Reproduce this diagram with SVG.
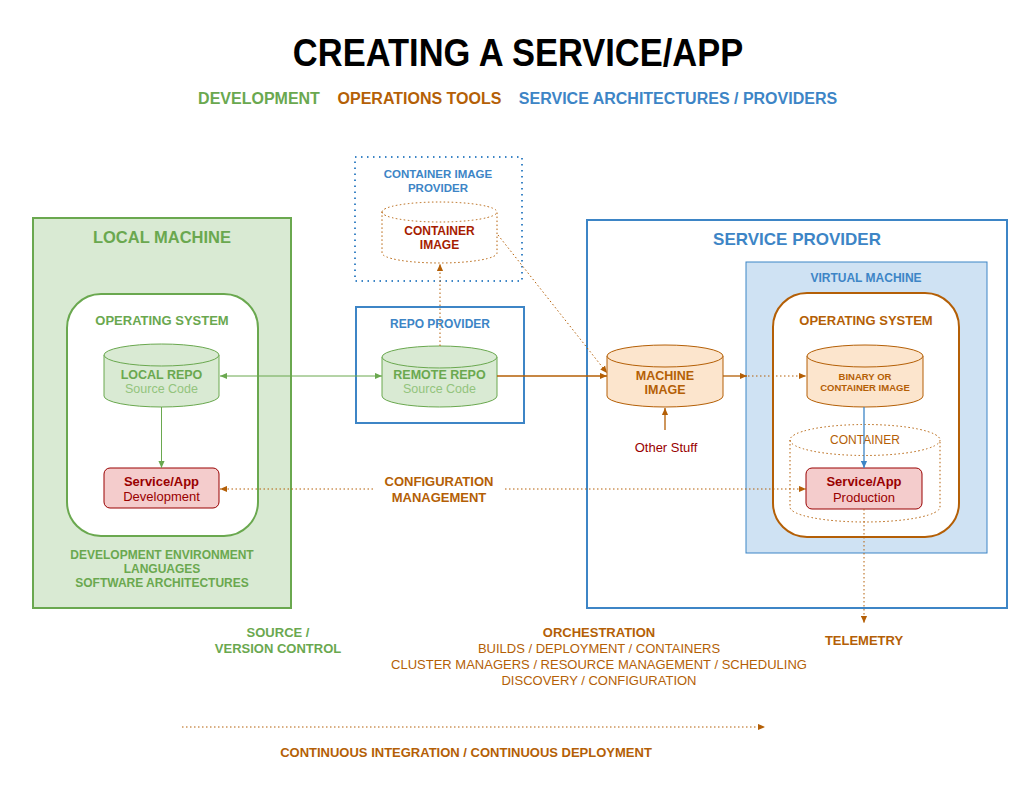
<svg xmlns="http://www.w3.org/2000/svg" width="1036" height="786" viewBox="0 0 1036 786">
<style>
text{font-family:"Liberation Sans",Arial,sans-serif;text-anchor:middle}
.b{font-weight:bold}
.g{fill:#6aa84f}.lg{fill:#93c47d}.o{fill:#b45f06}.bl{fill:#3d85c6}.r{fill:#990000}.rb{fill:#a61c00}
.cylG{fill:#d9ead3;stroke:#6aa84f;stroke-width:1}
.cylO{fill:#fce5cd;stroke:#b45f06;stroke-width:1}
.dotO{stroke:#b45f06;stroke-width:1;stroke-dasharray:1.5,2.5;fill:none}
.app{fill:#f4cccc;stroke:#990000;stroke-width:1}
</style>
<defs>
<marker id="aG" viewBox="0 0 8 8" refX="8" refY="4" markerWidth="7" markerHeight="7" markerUnits="userSpaceOnUse" orient="auto-start-reverse"><path d="M0,0.5 L8,4 L0,7.5 z" fill="#6aa84f"/></marker>
<marker id="aO" viewBox="0 0 8 8" refX="8" refY="4" markerWidth="7" markerHeight="7" markerUnits="userSpaceOnUse" orient="auto-start-reverse"><path d="M0,0.5 L8,4 L0,7.5 z" fill="#b45f06"/></marker>
<marker id="aB" viewBox="0 0 8 8" refX="8" refY="4" markerWidth="7" markerHeight="7" markerUnits="userSpaceOnUse" orient="auto-start-reverse"><path d="M0,0.5 L8,4 L0,7.5 z" fill="#3d85c6"/></marker>
</defs>
<rect width="1036" height="786" fill="#ffffff"/>

<g id="title">
<text transform="translate(518,66) scale(1,1.12)" x="0" y="0" class="b" font-size="34.5" fill="#000">CREATING A SERVICE/APP</text>
<text x="259" y="104" class="b g" font-size="16">DEVELOPMENT</text>
<text x="419.5" y="104" class="b o" font-size="16">OPERATIONS TOOLS</text>
<text x="678" y="104" class="b bl" font-size="16">SERVICE ARCHITECTURES / PROVIDERS</text>
</g>

<g id="local-machine">
<rect x="33" y="218" width="258" height="390" fill="#d9ead3" stroke="#6aa84f" stroke-width="2"/>
<text x="162" y="243" class="b g" font-size="16.5">LOCAL MACHINE</text>
<text x="162" y="559" class="b g" font-size="12">DEVELOPMENT ENVIRONMENT</text>
<text x="162" y="573" class="b g" font-size="12">LANGUAGES</text>
<text x="162" y="587" class="b g" font-size="12">SOFTWARE ARCHITECTURES</text>
</g>
<g id="local-os">
<rect x="67" y="294" width="191" height="242" rx="34" fill="#ffffff" stroke="#6aa84f" stroke-width="2"/>
<text x="162" y="325" class="b g" font-size="13">OPERATING SYSTEM</text>
</g>
<g id="local-repo">
<path class="cylG" d="M104,355 A57.5,11 0 0 1 219,355 V396 A57.5,11 0 0 1 104,396 Z"/>
<path class="cylG" fill="none" d="M104,355 A57.5,11 0 0 0 219,355"/>
<text x="161.5" y="379" class="b g" font-size="12.5">LOCAL REPO</text>
<text x="161.5" y="393" class="lg" font-size="12.5">Source Code</text>
</g>
<g id="app-dev">
<rect x="104" y="468" width="115" height="40" rx="6" class="app"/>
<text x="161.5" y="486" class="b r" font-size="13">Service/App</text>
<text x="161.5" y="501" class="r" font-size="13">Development</text>
</g>

<g id="container-image-provider">
<rect x="355" y="157" width="167" height="124" fill="none" stroke="#3d85c6" stroke-width="2" stroke-dasharray="1.5,4.5"/>
<text x="438" y="178" class="b bl" font-size="11.5">CONTAINER IMAGE</text>
<text x="438" y="192" class="b bl" font-size="11.5">PROVIDER</text>
</g>
<g id="container-image">
<path d="M382,212 A57.5,10 0 0 1 497,212 V253 A57.5,10 0 0 1 382,253 Z" fill="#fce5cd" class="dotO"/>
<path class="dotO" d="M382,212 A57.5,10 0 0 0 497,212"/>
<text x="439.5" y="235" class="b rb" font-size="12">CONTAINER</text>
<text x="439.5" y="249" class="b rb" font-size="12">IMAGE</text>
</g>

<g id="repo-provider">
<rect x="356" y="307" width="168" height="116" fill="#ffffff" stroke="#3d85c6" stroke-width="2"/>
<text x="440" y="328" class="b bl" font-size="12">REPO PROVIDER</text>
</g>
<g id="remote-repo">
<path class="cylG" d="M382,357 A57.5,11 0 0 1 497,357 V396 A57.5,11 0 0 1 382,396 Z"/>
<path class="cylG" fill="none" d="M382,357 A57.5,11 0 0 0 497,357"/>
<text x="439.5" y="379" class="b g" font-size="12.5">REMOTE REPO</text>
<text x="439.5" y="393" class="lg" font-size="12.5">Source Code</text>
</g>

<g id="service-provider">
<rect x="587" y="220" width="420" height="388" fill="#ffffff" stroke="#3d85c6" stroke-width="2"/>
<text x="797" y="245" class="b bl" font-size="17">SERVICE PROVIDER</text>
</g>
<g id="virtual-machine">
<rect x="746" y="262" width="241" height="291" fill="#cfe2f3" stroke="#3d85c6" stroke-width="1"/>
<text x="866" y="282" class="b bl" font-size="12">VIRTUAL MACHINE</text>
</g>
<g id="prod-os">
<rect x="773" y="293" width="186" height="244" rx="34" fill="#ffffff" stroke="#b45f06" stroke-width="2"/>
<text x="866" y="325" class="b o" font-size="13">OPERATING SYSTEM</text>
</g>
<g id="machine-image">
<path class="cylO" d="M607,356 A58,11 0 0 1 723,356 V396 A58,11 0 0 1 607,396 Z"/>
<path class="cylO" fill="none" d="M607,356 A58,11 0 0 0 723,356"/>
<text x="665" y="380" class="b o" font-size="12.5">MACHINE</text>
<text x="665" y="394" class="b o" font-size="12.5">IMAGE</text>
</g>
<g id="other-stuff">
<text x="666" y="452" class="r" font-size="13">Other Stuff</text>
</g>
<g id="binary-image">
<path class="cylO" d="M807,356 A58,11 0 0 1 923,356 V396 A58,11 0 0 1 807,396 Z"/>
<path class="cylO" fill="none" d="M807,356 A58,11 0 0 0 923,356"/>
<text x="865" y="380" class="b o" font-size="9.5">BINARY OR</text>
<text x="865" y="391" class="b o" font-size="9.5">CONTAINER IMAGE</text>
</g>
<g id="container">
<path class="dotO" d="M790,440 V507 A75,15 0 0 0 940,507 V440"/>
<ellipse class="dotO" cx="865" cy="440" rx="75" ry="15.5"/>
<text x="865" y="444" class="o" font-size="12">CONTAINER</text>
</g>
<g id="app-prod">
<rect x="806" y="468" width="116" height="41" rx="6" class="app"/>
<text x="864" y="486" class="b r" font-size="13">Service/App</text>
<text x="864" y="502" class="r" font-size="13">Production</text>
</g>

<g id="labels">
<text x="439" y="486" class="b o" font-size="13">CONFIGURATION</text>
<text x="439" y="502" class="b o" font-size="13">MANAGEMENT</text>
<text x="864" y="645" class="b o" font-size="13">TELEMETRY</text>
<text x="278" y="637" class="b g" font-size="13">SOURCE /</text>
<text x="278" y="653" class="b g" font-size="13">VERSION CONTROL</text>
<text x="599" y="637" class="b o" font-size="13">ORCHESTRATION</text>
<text x="599" y="653" class="o" font-size="13">BUILDS / DEPLOYMENT / CONTAINERS</text>
<text x="599" y="669" class="o" font-size="13">CLUSTER MANAGERS / RESOURCE MANAGEMENT / SCHEDULING</text>
<text x="599" y="685" class="o" font-size="13">DISCOVERY / CONFIGURATION</text>
<text x="466" y="757" class="b o" font-size="13">CONTINUOUS INTEGRATION / CONTINUOUS DEPLOYMENT</text>
</g>

<g id="connectors">
<line x1="161.5" y1="407" x2="161.5" y2="468" stroke="#6aa84f" stroke-width="1" marker-end="url(#aG)"/>
<line x1="220" y1="376" x2="382" y2="376" stroke="#6aa84f" stroke-width="1" marker-start="url(#aG)" marker-end="url(#aG)"/>
<line x1="440" y1="346" x2="440" y2="264" class="dotO" marker-end="url(#aO)"/>
<line x1="498" y1="235" x2="607" y2="373" class="dotO" marker-end="url(#aO)"/>
<line x1="497" y1="376" x2="607" y2="376" stroke="#b45f06" stroke-width="1.3" marker-end="url(#aO)"/>
<line x1="723" y1="376" x2="747" y2="376" stroke="#b45f06" stroke-width="1.3" marker-end="url(#aO)"/>
<line x1="748" y1="376" x2="806" y2="376" class="dotO" marker-end="url(#aO)"/>
<line x1="665" y1="430" x2="665" y2="408" stroke="#b45f06" stroke-width="1.3" marker-end="url(#aO)"/>
<line x1="864" y1="407" x2="864" y2="468" stroke="#3d85c6" stroke-width="1.3" marker-end="url(#aB)"/>
<line x1="373" y1="489" x2="220" y2="489" class="dotO" marker-end="url(#aO)"/>
<line x1="505" y1="489" x2="806" y2="489" class="dotO" marker-end="url(#aO)"/>
<line x1="864" y1="509" x2="864" y2="623" class="dotO" marker-end="url(#aO)"/>
<line x1="182" y1="727" x2="765" y2="727" class="dotO" marker-end="url(#aO)"/>
</g>
</svg>
